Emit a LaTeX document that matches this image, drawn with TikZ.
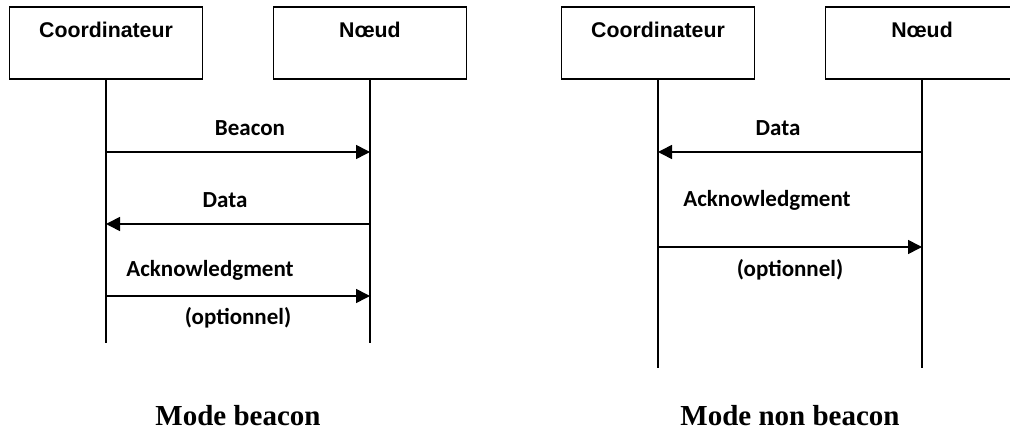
\documentclass[tikz,border=0pt]{standalone}
\usepackage{fontspec}
\setmainfont{Liberation Serif}
\newfontfamily\actorfont{Liberation Sans}
\newfontfamily\msgfont{Carlito}
\usetikzlibrary{arrows.meta}
\begin{document}
\begin{tikzpicture}[x=1pt,y=1pt,
  actorbox/.style={draw, line width=1.3pt, minimum width=193pt, minimum height=72pt, inner sep=0pt},
  actorname/.style={anchor=base, inner sep=0pt, font=\actorfont\bfseries\fontsize{21.3}{25}\selectfont},
  lifeline/.style={line width=1.6pt},
  msg/.style={line width=1.6pt, -{Triangle[length=14pt,width=14pt]}},
  msglabel/.style={anchor=base, inner sep=0pt, font=\msgfont\bfseries\fontsize{23}{27}\selectfont},
  caption/.style={anchor=base, inner sep=0pt, font=\bfseries\fontsize{29}{34}\selectfont}]
\useasboundingbox (0,0) rectangle (1010,-430);
\clip (0,0) rectangle (1010,-430);

% ---- beacon-enabled mode ----
\node[actorbox] (c1) at (106,-43) {};
\node[actorbox] (n1) at (370,-43) {};
\node[actorname] (c1t) at (106,-38) {Coordinateur};
\node[actorname] (n1t) at (370,-38) {Nœud};
\coordinate (c1end) at (106,-343);
\coordinate (n1end) at (370,-343);
\draw[lifeline] (c1.south) -- (c1end);
\draw[lifeline] (n1.south) -- (n1end);

\draw[msg] (c1.south |- 0,-152) -- (n1.south |- 0,-152);
\node[msglabel] (b1) at (250,-136) {Beacon};
\draw[msg] (n1.south |- 0,-224) -- (c1.south |- 0,-224);
\node[msglabel] (d1) at (225,-208) {Data};
\draw[msg] (c1.south |- 0,-296) -- (n1.south |- 0,-296);
\node[msglabel] (a1) at (210,-277) {Acknowledgment};
\node[msglabel] (o1) at (238,-325) {(optionnel)};

\node[caption] (m1) at (238,-425) {Mode beacon};

% ---- non-beacon mode ----
\node[actorbox] (c2) at (658,-43) {};
\node[actorbox] (n2) at (922,-43) {};
\node[actorname] (c2t) at (658,-38) {Coordinateur};
\node[actorname] (n2t) at (922,-38) {Nœud};
\coordinate (c2end) at (658,-368);
\coordinate (n2end) at (922,-368);
\draw[lifeline] (c2.south) -- (c2end);
\draw[lifeline] (n2.south) -- (n2end);

\draw[msg] (n2.south |- 0,-152) -- (c2.south |- 0,-152);
\node[msglabel] (d2) at (778,-136) {Data};
\draw[msg] (c2.south |- 0,-247) -- (n2.south |- 0,-247);
\node[msglabel] (a2) at (767,-207) {Acknowledgment};
\node[msglabel] (o2) at (790,-277) {(optionnel)};

\node[caption] (m2) at (790,-425) {Mode non beacon};
\end{tikzpicture}
\end{document}
